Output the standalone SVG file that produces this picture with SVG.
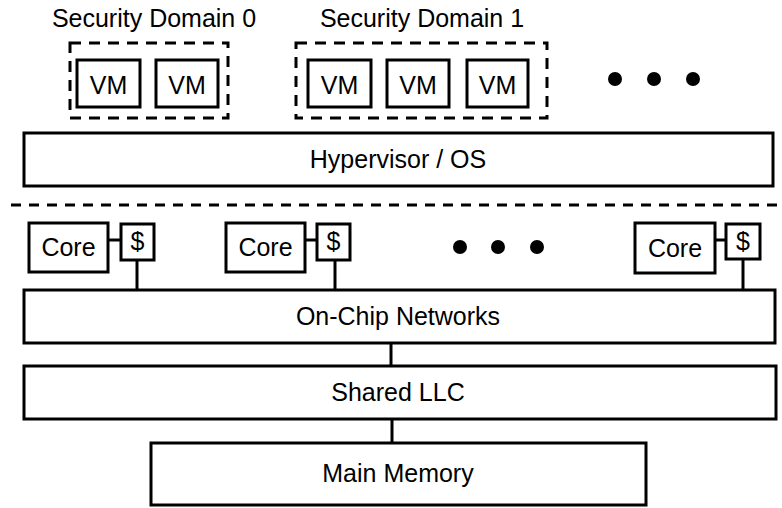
<svg xmlns="http://www.w3.org/2000/svg" width="782" height="508" viewBox="0 0 782 508">
  <style>
    text { font-family: "Liberation Sans", Arial, sans-serif; font-size: 25px; fill: #000; text-anchor: middle; }
    .box { fill: #fff; stroke: #000; stroke-width: 3; }
    .dom { fill: none; stroke: #000; stroke-width: 3; stroke-dasharray: 11 8; }
    .sep { fill: none; stroke: #000; stroke-width: 3; stroke-dasharray: 10 8; }
    .wire { fill: none; stroke: #000; stroke-width: 3; }
    .dot { fill: #000; }
  </style>

  <!-- software side -->
  <g id="domain0">
    <text x="154" y="27">Security Domain 0</text>
    <rect class="dom" x="70" y="43" width="158" height="75"/>
    <g id="vm0a"><rect class="box" x="77" y="60" width="63" height="47"/><text x="108.5" y="94">VM</text></g>
    <g id="vm0b"><rect class="box" x="156" y="60" width="62" height="47"/><text x="187" y="94">VM</text></g>
  </g>

  <g id="domain1">
    <text x="422" y="27">Security Domain 1</text>
    <rect class="dom" x="296" y="43" width="251" height="75"/>
    <g id="vm1a"><rect class="box" x="308" y="60" width="63" height="47"/><text x="339.5" y="94">VM</text></g>
    <g id="vm1b"><rect class="box" x="387" y="60" width="62" height="47"/><text x="418" y="94">VM</text></g>
    <g id="vm1c"><rect class="box" x="467" y="60" width="61" height="47"/><text x="497.5" y="94">VM</text></g>
  </g>

  <g id="more-domains">
    <circle class="dot" cx="615" cy="79" r="7"/>
    <circle class="dot" cx="654" cy="79" r="7"/>
    <circle class="dot" cx="693" cy="79" r="7"/>
  </g>

  <g id="hypervisor">
    <rect class="box" x="24" y="133" width="749" height="53"/>
    <text x="398" y="168">Hypervisor / OS</text>
  </g>

  <!-- software / hardware boundary -->
  <line class="sep" x1="11" y1="205" x2="782" y2="205"/>

  <!-- connectors -->
  <g id="connectors">
    <line class="wire" x1="108" y1="240" x2="121" y2="240"/>
    <line class="wire" x1="137" y1="260" x2="137" y2="290"/>
    <line class="wire" x1="305" y1="240" x2="317" y2="240"/>
    <line class="wire" x1="335" y1="260" x2="335" y2="290"/>
    <line class="wire" x1="715" y1="240" x2="726" y2="240"/>
    <line class="wire" x1="743" y1="259" x2="743" y2="290"/>
    <line class="wire" x1="391" y1="343" x2="391" y2="366"/>
    <line class="wire" x1="392" y1="419" x2="392" y2="443"/>
  </g>

  <!-- hardware side -->
  <g id="core0">
    <rect class="box" x="29" y="223" width="79" height="49"/><text x="68.5" y="256">Core</text>
  </g>
  <g id="cache0">
    <rect class="box" x="121" y="224" width="33" height="36"/><text x="137.5" y="250">$</text>
  </g>

  <g id="core1">
    <rect class="box" x="226" y="223" width="79" height="49"/><text x="265.5" y="256">Core</text>
  </g>
  <g id="cache1">
    <rect class="box" x="317" y="224" width="33" height="36"/><text x="333.5" y="250">$</text>
  </g>

  <g id="more-cores">
    <circle class="dot" cx="460" cy="247" r="7"/>
    <circle class="dot" cx="498" cy="247" r="7"/>
    <circle class="dot" cx="537" cy="247" r="7"/>
  </g>

  <g id="core2">
    <rect class="box" x="635" y="223" width="80" height="50"/><text x="675" y="257">Core</text>
  </g>
  <g id="cache2">
    <rect class="box" x="726" y="224" width="34" height="35"/><text x="743" y="250">$</text>
  </g>

  <g id="noc">
    <rect class="box" x="24" y="290" width="751" height="53"/>
    <text x="398" y="325">On-Chip Networks</text>
  </g>

  <g id="llc">
    <rect class="box" x="24" y="366" width="752" height="53"/>
    <text x="398" y="401">Shared LLC</text>
  </g>

  <g id="memory">
    <rect class="box" x="151" y="443" width="495" height="62"/>
    <text x="398" y="482">Main Memory</text>
  </g>
</svg>
